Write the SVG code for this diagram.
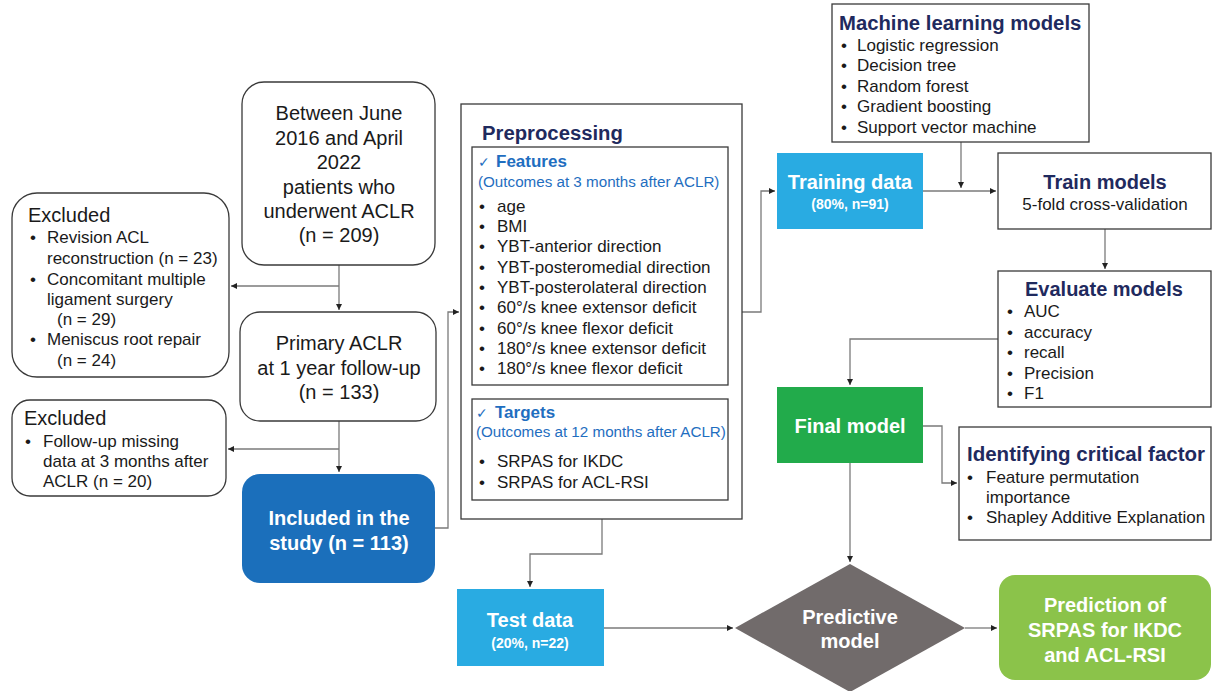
<svg xmlns="http://www.w3.org/2000/svg" width="1212" height="691" viewBox="0 0 1212 691">
<style>
text{font-family:"Liberation Sans",Arial,sans-serif;}
.box{fill:#fff;stroke:#3a3a3a;stroke-width:1.3;}
.t20{font-size:20px;fill:#1a1a1a;}
.t16{font-size:17px;fill:#1a1a1a;}
.t165{font-size:17px;fill:#1a1a1a;}
.navy{font-weight:bold;fill:#1f2a5e;}
.blue{fill:#1f6ec0;}
.wb{font-weight:bold;fill:#fff;font-size:20px;}
.ws{font-weight:bold;fill:#fff;font-size:14px;}
.c{text-anchor:middle;}
.ln{fill:none;stroke:#7a7a7a;stroke-width:1.3;}
</style>
<defs>
<marker id="ah" markerWidth="6" markerHeight="6" refX="6" refY="3" orient="auto" markerUnits="userSpaceOnUse">
<path d="M0,0 L6,3 L0,6 z" fill="#222"/>
</marker>
</defs>

<g id="connectors">
<path class="ln" d="M339,265 L339,310" marker-end="url(#ah)"/>
<path class="ln" d="M339,286 L231,286" marker-end="url(#ah)"/>
<path class="ln" d="M339,421 L339,472" marker-end="url(#ah)"/>
<path class="ln" d="M339,449 L228,449" marker-end="url(#ah)"/>
<path class="ln" d="M435,528 L448,528 L448,312 L459,312" marker-end="url(#ah)"/>
<path class="ln" d="M742,312 L761,312 L761,191 L775,191" marker-end="url(#ah)"/>
<path class="ln" d="M961,142 L961,188" marker-end="url(#ah)"/>
<path class="ln" d="M923,191 L996,191" marker-end="url(#ah)"/>
<path class="ln" d="M1105,229 L1105,269" marker-end="url(#ah)"/>
<path class="ln" d="M998,339 L850,339 L850,385" marker-end="url(#ah)"/>
<path class="ln" d="M923,426 L942,426 L942,483 L957,483" marker-end="url(#ah)"/>
<path class="ln" d="M850,463 L850,562" marker-end="url(#ah)"/>
<path class="ln" d="M602,519 L602,554 L530,554 L530,587" marker-end="url(#ah)"/>
<path class="ln" d="M604,628 L733,628" marker-end="url(#ah)"/>
<path class="ln" d="M965,628 L997,628" marker-end="url(#ah)"/>
</g>

<g id="between">
<rect class="box" x="242" y="82" width="193" height="183" rx="22"/>
<text class="t20 c" x="339" y="120">Between June</text>
<text class="t20 c" x="339" y="145">2016 and April</text>
<text class="t20 c" x="339" y="169">2022</text>
<text class="t20 c" x="339" y="194">patients who</text>
<text class="t20 c" x="339" y="218">underwent ACLR</text>
<text class="t20 c" x="339" y="242">(n = 209)</text>
</g>

<g id="excluded1">
<rect class="box" x="12" y="193" width="217" height="184" rx="25"/>
<text class="t20" x="28" y="222">Excluded</text>
<g class="t165">
<text x="30" y="243">•</text><text x="47" y="243">Revision ACL</text>
<text x="47" y="264">reconstruction (n = 23)</text>
<text x="30" y="285">•</text><text x="47" y="285">Concomitant multiple</text>
<text x="47" y="305">ligament surgery</text>
<text x="57" y="325">(n = 29)</text>
<text x="30" y="345">•</text><text x="47" y="345">Meniscus root repair</text>
<text x="57" y="366">(n = 24)</text>
</g>
</g>

<g id="primary">
<rect class="box" x="240" y="312" width="196" height="109" rx="20"/>
<text class="t20 c" x="339" y="350">Primary ACLR</text>
<text class="t20 c" x="339" y="375">at 1 year follow-up</text>
<text class="t20 c" x="339" y="399">(n = 133)</text>
</g>

<g id="excluded2">
<rect class="box" x="12" y="400" width="214" height="96" rx="18"/>
<text class="t20" x="24" y="425">Excluded</text>
<g class="t165">
<text x="25" y="447">•</text><text x="43" y="447">Follow-up missing</text>
<text x="43" y="467">data at 3 months after</text>
<text x="43" y="487">ACLR (n = 20)</text>
</g>
</g>

<g id="included">
<rect x="242" y="474" width="193" height="109" rx="18" fill="#1b6fbb"/>
<text class="wb c" x="339" y="525">Included in the</text>
<text class="wb c" x="339" y="550">study (n = 113)</text>
</g>

<g id="preprocessing">
<rect class="box" x="461" y="104" width="281" height="415"/>
<text class="navy" x="482" y="140" style="font-size:20.3px">Preprocessing</text>
<rect class="box" x="472" y="147" width="256" height="238"/>
<text class="blue" x="478" y="167" style="font-size:14px">✓</text>
<text class="blue" x="496" y="167" style="font-size:17px;font-weight:bold">Features</text>
<text class="blue" x="478" y="187" style="font-size:15.2px">(Outcomes at 3 months after ACLR)</text>
<g class="t16">
<text x="479" y="212">•</text><text x="497" y="212">age</text>
<text x="479" y="232">•</text><text x="497" y="232">BMI</text>
<text x="479" y="252">•</text><text x="497" y="252">YBT-anterior direction</text>
<text x="479" y="273">•</text><text x="497" y="273">YBT-posteromedial direction</text>
<text x="479" y="293">•</text><text x="497" y="293">YBT-posterolateral direction</text>
<text x="479" y="313">•</text><text x="497" y="313">60°/s knee extensor deficit</text>
<text x="479" y="334">•</text><text x="497" y="334">60°/s knee flexor deficit</text>
<text x="479" y="354">•</text><text x="497" y="354">180°/s knee extensor deficit</text>
<text x="479" y="374">•</text><text x="497" y="374">180°/s knee flexor deficit</text>
</g>
<rect class="box" x="472" y="399" width="256" height="101"/>
<text class="blue" x="476" y="418" style="font-size:14px">✓</text>
<text class="blue" x="495" y="418" style="font-size:17px;font-weight:bold">Targets</text>
<text class="blue" x="476" y="437" style="font-size:15.2px">(Outcomes at 12 months after ACLR)</text>
<g class="t16">
<text x="479" y="467">•</text><text x="497" y="467">SRPAS for IKDC</text>
<text x="479" y="488">•</text><text x="497" y="488">SRPAS for ACL-RSI</text>
</g>
</g>

<g id="ml-models">
<rect class="box" x="832" y="4" width="257" height="138"/>
<text class="navy" x="839" y="30" style="font-size:20.3px">Machine learning models</text>
<g class="t16">
<text x="841" y="51">•</text><text x="857" y="51">Logistic regression</text>
<text x="841" y="71">•</text><text x="857" y="71">Decision tree</text>
<text x="841" y="92">•</text><text x="857" y="92">Random forest</text>
<text x="841" y="112">•</text><text x="857" y="112">Gradient boosting</text>
<text x="841" y="133">•</text><text x="857" y="133">Support vector machine</text>
</g>
</g>

<g id="training">
<rect x="777" y="153" width="146" height="76" fill="#29abe2"/>
<text class="wb c" x="850" y="189">Training data</text>
<text class="ws c" x="850" y="209">(80%, n=91)</text>
</g>

<g id="train-models">
<rect class="box" x="998" y="153" width="213" height="76"/>
<text class="navy c" x="1105" y="189" style="font-size:20px">Train models</text>
<text class="t16 c" x="1105" y="210">5-fold cross-validation</text>
</g>

<g id="evaluate">
<rect class="box" x="998" y="271" width="213" height="136"/>
<text class="navy" x="1025" y="296" style="font-size:20px">Evaluate models</text>
<g class="t16">
<text x="1007" y="317">•</text><text x="1024" y="317">AUC</text>
<text x="1007" y="338">•</text><text x="1024" y="338">accuracy</text>
<text x="1007" y="358">•</text><text x="1024" y="358">recall</text>
<text x="1007" y="379">•</text><text x="1024" y="379">Precision</text>
<text x="1007" y="399">•</text><text x="1024" y="399">F1</text>
</g>
</g>

<g id="final">
<rect x="777" y="387" width="146" height="76" fill="#22ab4b"/>
<text class="wb c" x="850" y="433">Final model</text>
</g>

<g id="identifying">
<rect class="box" x="959" y="427" width="252" height="113"/>
<text class="navy" x="967" y="461" style="font-size:20.5px">Identifying critical factor</text>
<g class="t16">
<text x="967" y="483">•</text><text x="986" y="483">Feature permutation</text>
<text x="986" y="503">importance</text>
<text x="967" y="523">•</text><text x="986" y="523">Shapley Additive Explanation</text>
</g>
</g>

<g id="test">
<rect x="457" y="589" width="147" height="77" fill="#29abe2"/>
<text class="wb c" x="530" y="627">Test data</text>
<text class="ws c" x="530" y="648">(20%, n=22)</text>
</g>

<g id="predictive">
<polygon points="850,564 965,628 850,692 735,628" fill="#716b6b"/>
<text class="wb c" x="850" y="624">Predictive</text>
<text class="wb c" x="850" y="648">model</text>
</g>

<g id="prediction">
<rect x="999" y="575" width="212" height="105" rx="16" fill="#8bc34a"/>
<text class="wb c" x="1105" y="612">Prediction of</text>
<text class="wb c" x="1105" y="637">SRPAS for IKDC</text>
<text class="wb c" x="1105" y="662">and ACL-RSI</text>
</g>
</svg>
